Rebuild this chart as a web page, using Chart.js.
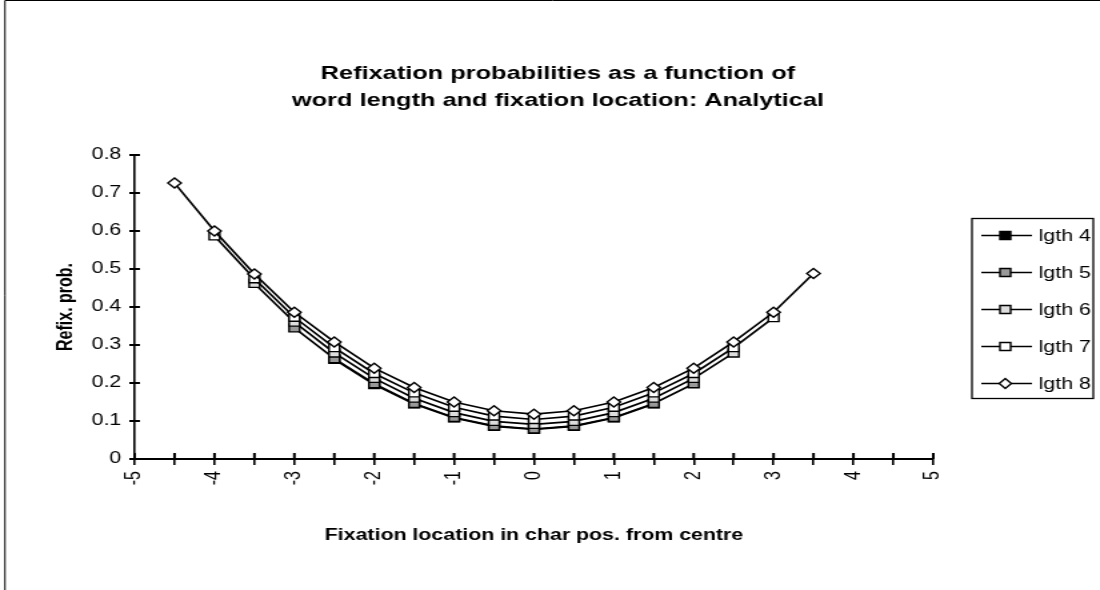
<!DOCTYPE html>
<html>
<head>
<meta charset="utf-8">
<title>Refixation probabilities</title>
<script src="https://cdn.jsdelivr.net/npm/chart.js@4.4.0/dist/chart.umd.min.js"></script>
<style>
  html, body { margin: 0; padding: 0; background: #fff; overflow: hidden; }
  /* the original picture is an Excel chart stretched sideways, so stretch the canvas the same way */
  #wrap { position: absolute; left: 0; top: 0; width: 825px; height: 590px;
          transform: scaleX(1.3333); transform-origin: 0 0; }
</style>
</head>
<body>
<div id="wrap"><canvas id="refixChart" width="825" height="590"></canvas></div>
<script>
// Fixation location (char pos. from centre)
var fixLoc = [-4.5, -4, -3.5, -3, -2.5, -2, -1.5, -1, -0.5, 0, 0.5, 1, 1.5, 2, 2.5, 3, 3.5];

// Refixation probabilities per word length (null = no position)
var lgth4 = [null, null, null, null, 0.262, 0.196, 0.145, 0.108, 0.086, 0.078, 0.086, 0.108, 0.145, null, null, null, null];
var lgth5 = [null, null, null, 0.345, 0.264, 0.198, 0.146, 0.109, 0.087, 0.079, 0.087, 0.109, 0.146, 0.198, null, null, null];
var lgth6 = [null, null, 0.462, 0.360, 0.279, 0.212, 0.160, 0.122, 0.099, 0.091, 0.099, 0.122, 0.160, 0.212, 0.279, null, null];
var lgth7 = [null, 0.587, 0.474, 0.373, 0.293, 0.225, 0.174, 0.136, 0.113, 0.104, 0.113, 0.136, 0.174, 0.225, 0.293, 0.372, null];
var lgth8 = [0.726, 0.600, 0.487, 0.386, 0.308, 0.239, 0.188, 0.150, 0.127, 0.118, 0.127, 0.150, 0.188, 0.239, 0.308, 0.386, 0.488];

var seriesNames = ['lgth 4', 'lgth 5', 'lgth 6', 'lgth 7', 'lgth 8'];
var seriesValues = [lgth4, lgth5, lgth6, lgth7, lgth8];
var markerFill = ['#000000', '#999999', '#dddddd', '#ffffff', '#ffffff'];
var markerStyle = ['rect', 'rect', 'rect', 'rect', 'rectRot'];

var yTicks = [0, 0.1, 0.2, 0.3, 0.4, 0.5, 0.6, 0.7, 0.8];

var FONT = "'Liberation Sans', Arial, sans-serif";

// build datasets, last series drawn on top like the original
var datasets = seriesValues.map(function (vals, i) {
    return {
        label: seriesNames[i],
        data: fixLoc.map(function (x, j) { return { x: x, y: vals[j] }; }),
        borderColor: '#000',
        borderWidth: 1.7,
        backgroundColor: markerFill[i],
        pointBackgroundColor: markerFill[i],
        pointBorderColor: '#000',
        pointBorderWidth: 1.4,
        pointStyle: markerStyle[i],
        pointRadius: markerStyle[i] === 'rectRot' ? 5 : 5.6,
        pointHoverRadius: 6,
        fill: false,
        tension: 0,
        yAxisID: 'y',
        order: seriesValues.length - 1 - i
    };
});

// frame around the whole picture
var framePlugin = {
    id: 'frame',
    beforeDraw: function (chart) {
        var ctx = chart.ctx;
        ctx.save();
        ctx.fillStyle = '#fff';
        ctx.fillRect(0, 0, chart.width, chart.height);
        ctx.strokeStyle = '#000';
        ctx.lineWidth = 1;
        ctx.beginPath();
        ctx.moveTo(3.75, chart.height);
        ctx.lineTo(3.75, 0.5);
        ctx.lineTo(chart.width, 0.5);
        ctx.stroke();
        ctx.restore();
    }
};

// inner half of the tick marks (Excel style crossing ticks)
var innerTicks = {
    id: 'innerTicks',
    afterDraw: function (chart) {
        var ctx = chart.ctx;
        var xs = chart.scales.x, ys = chart.scales.y;
        ctx.save();
        ctx.strokeStyle = '#000';
        ctx.lineWidth = 2;
        ctx.beginPath();
        xs.ticks.forEach(function (t) {
            var px = xs.getPixelForValue(t.value);
            ctx.moveTo(px, ys.bottom);
            ctx.lineTo(px, ys.bottom - 6);
        });
        ys.ticks.forEach(function (t) {
            var py = Math.round(ys.getPixelForValue(t.value));
            ctx.moveTo(xs.left, py);
            ctx.lineTo(xs.left + 4, py);
        });
        ctx.stroke();
        ctx.restore();
    }
};

// legend box on the right with line + marker symbols
var boxLegend = {
    id: 'boxLegend',
    afterDraw: function (chart) {
        var ctx = chart.ctx;
        var left = 729, top = 218.5, w = 91, h = 180;
        ctx.save();
        ctx.strokeStyle = '#000';
        ctx.lineWidth = 1.3;
        ctx.strokeRect(left, top, w, h);
        ctx.font = '16px ' + FONT;
        ctx.textBaseline = 'middle';
        chart.data.datasets.forEach(function (ds, i) {
            var y = top + 17 + i * 37;
            ctx.lineWidth = 1.7;
            ctx.beginPath();
            ctx.moveTo(left + 7, y);
            ctx.lineTo(left + 45, y);
            ctx.stroke();
            ctx.lineWidth = 1.4;
            ctx.fillStyle = ds.pointBackgroundColor;
            var cx = left + 25;
            ctx.beginPath();
            if (ds.pointStyle === 'rectRot') {
                ctx.moveTo(cx - 4.5, y);
                ctx.lineTo(cx, y - 5);
                ctx.lineTo(cx + 4.5, y);
                ctx.lineTo(cx, y + 5);
                ctx.closePath();
            } else {
                ctx.rect(cx - 4, y - 4, 8, 8);
            }
            ctx.fill();
            ctx.stroke();
            ctx.fillStyle = '#000';
            ctx.fillText(ds.label, left + 50, y + 1);
        });
        ctx.restore();
    }
};

var ctx = document.getElementById('refixChart').getContext('2d');
var refixChart = new Chart(ctx, {
    type: 'line',
    data: { datasets: datasets },
    plugins: [framePlugin, innerTicks, boxLegend],
    options: {
        responsive: false,
        animation: false,
        layout: { padding: { left: 12, right: 0, top: 0, bottom: 0 } },
        plugins: {
            legend: { display: false },
            tooltip: { enabled: false },
            title: {
                display: true,
                text: ['Refixation probabilities as a function of', 'word length and fixation location: Analytical'],
                color: '#000',
                font: { family: FONT, size: 19, weight: 'bold', lineHeight: 1.42 },
                padding: { top: 60, bottom: 41 }
            }
        },
        scales: {
            x: {
                type: 'linear',
                min: -5,
                max: 5,
                border: { color: '#000', width: 2 },
                grid: { display: true, drawOnChartArea: false, color: '#000', lineWidth: 1.6, tickLength: 6 },
                ticks: {
                    stepSize: 0.5,
                    autoSkip: false,
                    minRotation: 90,
                    maxRotation: 90,
                    padding: 6,
                    color: '#000',
                    font: { family: FONT, size: 16 },
                    callback: function (v) { return Number.isInteger(v) ? String(v) : ''; }
                },
                title: {
                    display: true,
                    text: 'Fixation location in char pos. from centre',
                    color: '#000',
                    font: { family: FONT, size: 16, weight: 'bold' },
                    padding: { top: 0, bottom: 45 }
                },
                afterFit: function (scale) { scale.height = 131; }
            },
            y: {
                position: 'left',
                min: 0,
                max: 0.8,
                border: { color: '#000', width: 1.6 },
                grid: { display: true, drawOnChartArea: false, color: '#000', lineWidth: 2, tickLength: 4 },
                afterBuildTicks: function (scale) {
                    scale.ticks = yTicks.map(function (v) { return { value: v }; });
                },
                ticks: {
                    padding: 6,
                    color: '#000',
                    font: { family: FONT, size: 16 },
                    callback: function (v) { return String(+v.toFixed(1)); }
                },
                title: {
                    display: true,
                    text: 'Refix. prob.',
                    color: '#000',
                    font: { family: FONT, size: 16, weight: 'bold' },
                    padding: { top: 28, bottom: 0 }
                },
                afterFit: function (scale) { scale.width = 89; }
            },
            // empty right axis that only keeps room for the legend box
            legendSpace: {
                type: 'linear',
                position: 'right',
                display: true,
                border: { display: false },
                grid: { display: false },
                ticks: { display: false },
                afterFit: function (scale) { scale.width = 125; }
            }
        }
    }
});
</script>
</body>
</html>
